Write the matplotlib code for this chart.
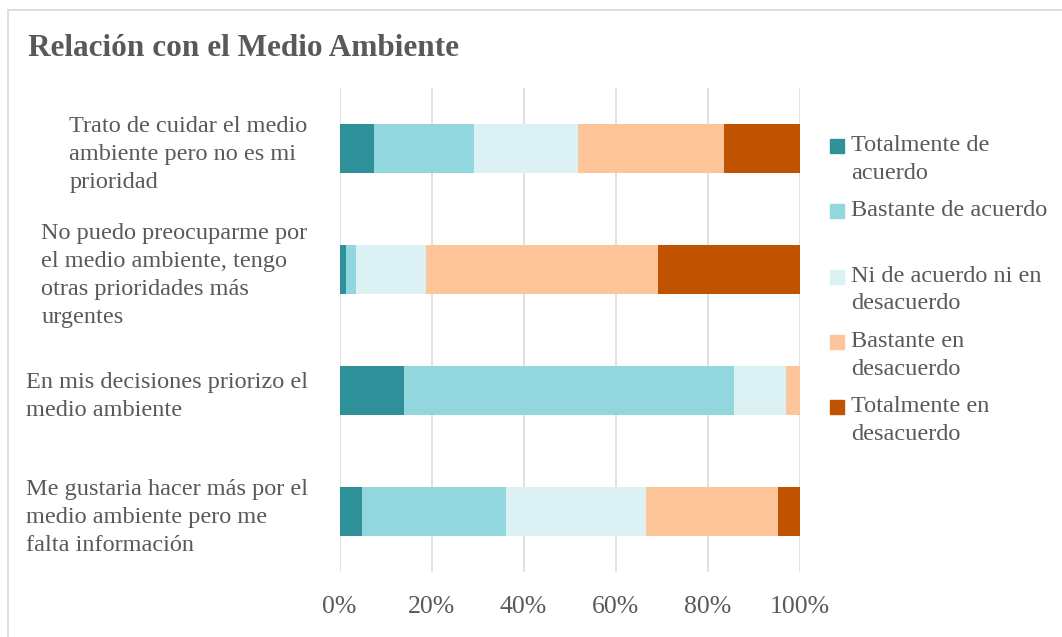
import numpy as np
import matplotlib
matplotlib.use('Agg')
import matplotlib.pyplot as plt
from matplotlib.patches import Rectangle
from matplotlib.lines import Line2D

plt.rcParams['font.family'] = ['Liberation Serif', 'DejaVu Serif']

# categories, top to bottom
categories = ['Trato de cuidar el medio\nambiente pero no es mi\nprioridad',
              'No puedo preocuparme por\nel medio ambiente, tengo\notras prioridades más\nurgentes',
              'En mis decisiones priorizo el\nmedio ambiente',
              'Me gustaria hacer más por el\nmedio ambiente pero me\nfalta información']

series_names = ['Totalmente de\nacuerdo', 'Bastante de acuerdo',
                'Ni de acuerdo ni en\ndesacuerdo', 'Bastante en\ndesacuerdo',
                'Totalmente en\ndesacuerdo']

# percentages (one list per series, same order as categories)
totalmente_acuerdo = [7.5, 1.4, 14.0, 4.9]
bastante_acuerdo = [21.7, 2.2, 71.8, 31.3]
ni_ni = [22.7, 15.2, 11.3, 30.4]
bastante_desacuerdo = [31.7, 50.4, 2.9, 28.7]
totalmente_desacuerdo = [16.4, 30.8, 0.0, 4.7]

colors = ['#2E9099', '#92D7DE', '#DBF1F3', '#FEC59B', '#C05300']

xticks = [0, 20, 40, 60, 80, 100]
xtick_labels = ['0%', '20%', '40%', '60%', '80%', '100%']

gray = '#595959'

fig = plt.figure(figsize=(10.62, 6.37), dpi=100)
ax = fig.add_axes([339.5 / 1062, 1 - 572 / 637, 460 / 1062, 484 / 637])

data = [totalmente_acuerdo, bastante_acuerdo, ni_ni, bastante_desacuerdo, totalmente_desacuerdo]
y = np.arange(len(categories))
left = np.zeros(len(categories))
for vals, col in zip(data, colors):
    vals = np.array(vals)
    ax.barh(y, vals, left=left, height=0.4, color=col, zorder=2)
    left += vals

ax.set_xlim(0, 100)
ax.set_ylim(len(categories) - 0.5, -0.5)
ax.set_xticks(xticks)
ax.set_xticklabels(xtick_labels)
ax.set_yticks(y)
ax.set_yticklabels(categories)
for lbl in ax.get_yticklabels():
    lbl.set_multialignment('left')
    lbl.set_linespacing(1.43)
ax.tick_params(axis='both', length=0, labelsize=17.5, labelcolor=gray)
ax.tick_params(axis='x', labelsize=18.5, pad=17)
ax.tick_params(axis='y', pad=23)
ax.grid(axis='x', color='#D9D9D9', linewidth=1.1, zorder=0)
for s in ax.spines.values():
    s.set_visible(False)

# title
fig.text(28 / 1062, 1 - 56 / 637, 'Relación con el Medio Ambiente', fontsize=22.5,
         fontweight='bold', color=gray, va='baseline', ha='left')

# legend drawn by hand, each entry in a two-line slot
for i, (name, col) in enumerate(zip(series_names, colors)):
    yc = 146 + i * 65.25
    fig.add_artist(Rectangle((830 / 1062, 1 - (yc + 7) / 637), 14 / 1062, 14 / 637,
                             transform=fig.transFigure, color=col))
    fig.text(851 / 1062, 1 - (yc - 11) / 637, name, fontsize=17.5, color=gray,
             va='top', ha='left', linespacing=1.43)

# chart border (cut off at right and bottom)
bc = '#D9D9D9'
fig.add_artist(Line2D([8 / 1062, 8 / 1062], [0, 1 - 10 / 637], color=bc, linewidth=1.2))
fig.add_artist(Line2D([8 / 1062, 1], [1 - 10 / 637, 1 - 10 / 637], color=bc, linewidth=1.2))

fig.savefig('out.png', dpi=100)
